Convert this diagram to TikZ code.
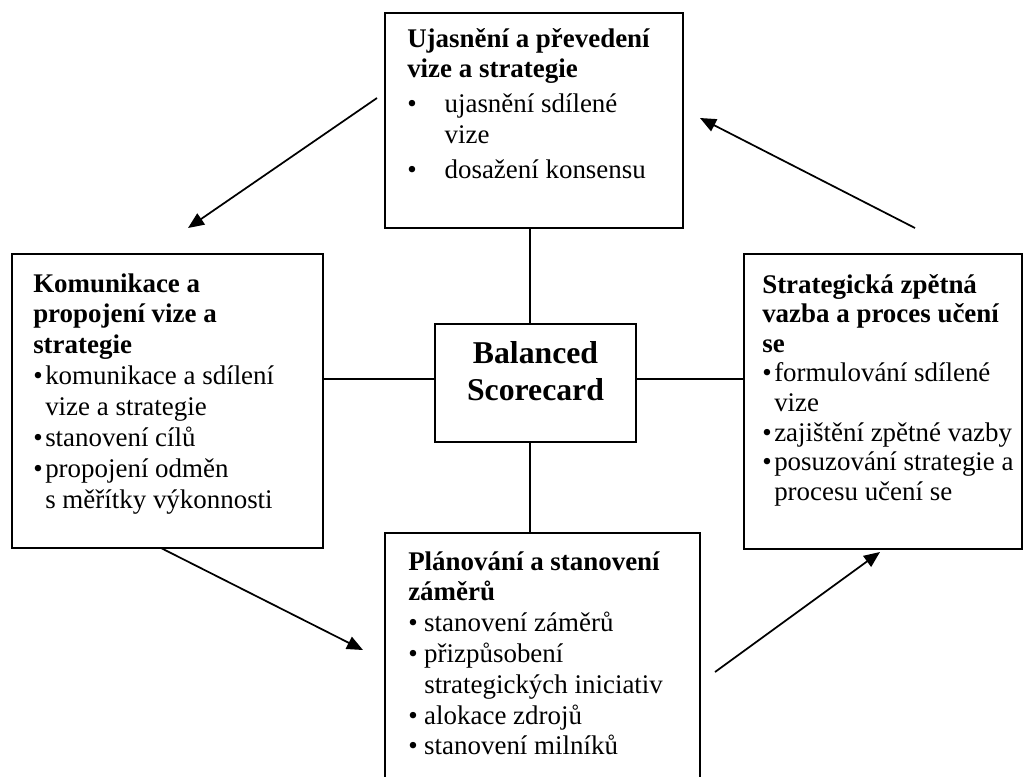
\documentclass[tikz,border=0pt]{standalone}
\usepackage{fontspec}
\setmainfont{Liberation Serif}
\usetikzlibrary{arrows.meta,fit}

% bullet with a fixed indent, and the matching indent for wrapped lines
\newcommand\bul[1]{\makebox[#1][l]{•}}
\newcommand\ind[1]{\hspace*{#1}}

\tikzset{
  box/.style={draw, line width=1.4pt, inner sep=0pt},
  txt/.style={anchor=base west, inner sep=0pt, font=\fontsize{20.2}{23.2}\selectfont},
  link/.style={line width=1.3pt},
  flow/.style={line width=1.3pt, -{Triangle[length=12pt,width=10pt]}}
}

\begin{document}
\begin{tikzpicture}[x=0.75pt,y=-0.75pt]
\useasboundingbox (0,0) rectangle (1034,776);
\clip (0,0) rectangle (1034,776);

% frames
\node[box, fit={(385,13) (683,228)}]   (top)   {};
\node[box, fit={(12,254) (323,548)}]   (left)  {};
\node[box, fit={(744,254) (1022,549)}] (right) {};
\node[box, fit={(385,533) (700,820)}]  (bot)   {};
\node[box, fit={(435,324) (636,442)}]  (core)  {};

% box contents
\node[txt] (topT) at (407,47) {\begin{tabular}[t]{@{}l@{}}
  \bfseries Ujasnění a převedení\\
  \bfseries vize a strategie\\[2.5pt]
  \bul{28pt}ujasnění sdílené\\
  \ind{28pt}vize\\[3pt]
  \bul{28pt}dosažení konsensu
\end{tabular}};

\node[txt] (leftT) at (33,292) {\begin{tabular}[t]{@{}l@{}}
  \bfseries Komunikace a\\
  \bfseries propojení vize a\\
  \bfseries strategie\\
  \bul{9pt}komunikace a sdílení\\
  \ind{9pt}vize a strategie\\
  \bul{9pt}stanovení cílů\\
  \bul{9pt}propojení odměn\\
  \ind{9pt}s měřítky výkonnosti
\end{tabular}};

\node[txt, font=\fontsize{20.2}{22.2}\selectfont] (rightT) at (762,293) {\begin{tabular}[t]{@{}l@{}}
  \bfseries Strategická zpětná\\
  \bfseries vazba a proces učení\\
  \bfseries se\\
  \bul{9pt}formulování sdílené\\
  \ind{9pt}vize\\
  \bul{9pt}zajištění zpětné vazby\\
  \bul{9pt}posuzování strategie a\\
  \ind{9pt}procesu učení se
\end{tabular}};

\node[txt, font=\fontsize{20.2}{23.1}\selectfont] (botT) at (408,570) {\begin{tabular}[t]{@{}l@{}}
  \bfseries Plánování a stanovení\\
  \bfseries záměrů\\
  \bul{12pt}stanovení záměrů\\
  \bul{12pt}přizpůsobení\\
  \ind{12pt}strategických iniciativ\\
  \bul{12pt}alokace zdrojů\\
  \bul{12pt}stanovení milníků
\end{tabular}};

\node[anchor=base, inner sep=0pt, font=\fontsize{23.8}{27.8}\selectfont\bfseries] (coreT) at (535.5,363)
  {\begin{tabular}[t]{@{}c@{}}Balanced\\Scorecard\end{tabular}};

% links to the centre box
\coordinate (vx) at (530,0);
\coordinate (hy) at (0,379);
\draw[link] (vx |- top.south)  -- (vx |- core.north);
\draw[link] (vx |- core.south) -- (vx |- bot.north);
\draw[link] (left.east |- hy)  -- (core.west |- hy);
\draw[link] (core.east |- hy)  -- (right.west |- hy);

% cycle arrows
\coordinate (a1s) at (377,98);  \coordinate (a1e) at (188,228);
\coordinate (a2s) at (161,548); \coordinate (a2e) at (363,650);
\coordinate (a3s) at (715,672); \coordinate (a3e) at (880,552);
\coordinate (a4s) at (915,228); \coordinate (a4e) at (700,118);
\draw[flow] (a1s) -- (a1e);
\draw[flow] (a2s) -- (a2e);
\draw[flow] (a3s) -- (a3e);
\draw[flow] (a4s) -- (a4e);
\end{tikzpicture}
\end{document}
